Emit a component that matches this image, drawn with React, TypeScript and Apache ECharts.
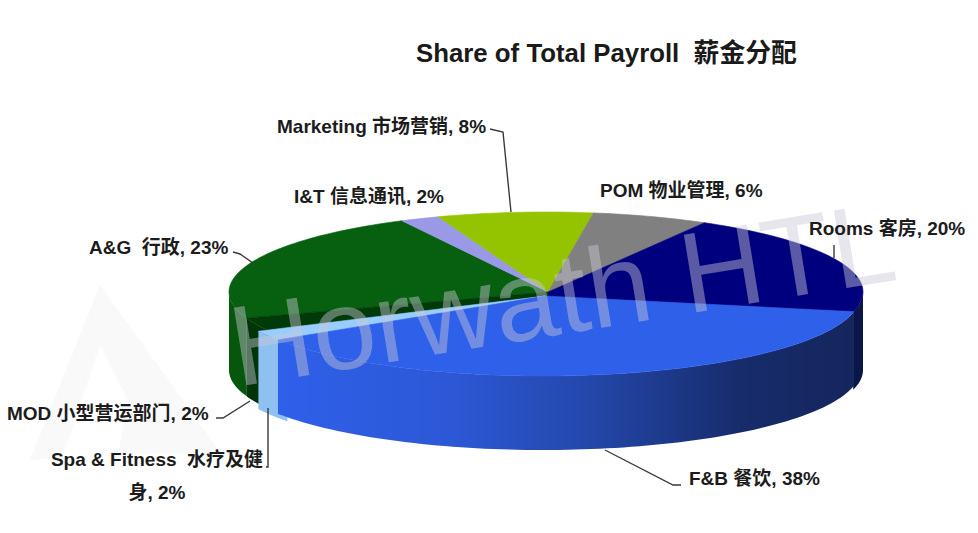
import React, { useEffect, useRef } from "react";
import * as echarts from "echarts";

const sliceNames = ["Rooms 客房", "F&B 餐饮", "Spa & Fitness  水疗及健\n身", "MOD 小型营运部门", "A&G  行政", "I&T 信息通讯", "Marketing 市场营销", "POM 物业管理"];
const shares = [20, 38, 2, 2, 23, 2, 8, 6];
const topColors = ["#00007E", "#2F60EA", "#99CCFF", "#003A08", "#07600F", "#9999E8", "#94C400", "#808080"];
const titleText = "Share of Total Payroll  薪金分配";
const drawOrder = [4, 5, 6, 7, 0, 3, 2, 1];

const CX = 546, CY = 292, RX = 317, RY = 80, DEPTH = 78, START = 30;
const total = shares.reduce((a, b) => a + b, 0);
const offsets: Record<number, [number, number]> = { 1: [-3, 4], 2: [-3, 4] };
const underlap: Record<number, [number, number]> = { 0: [0, 3], 3: [4, 0], 2: [3, 0] };
const labelPos: [number, number, string][] = [
  [809, 228, "left"], [689, 478, "left"], [157, 476, "center"], [7, 413, "left"],
  [89, 247, "left"], [294, 196, "left"], [277, 126, "left"], [600, 190, "left"],
];
const leaders: number[][][] = [
  [[834, 245], [834, 258]],
  [[605, 450], [673, 485], [681, 485]],
  [[268, 408], [268, 467], [266, 467]],
  [[216, 418], [223, 418], [250, 401]],
  [[233, 252], [240, 254], [253, 263]],
  [],
  [[490, 129], [503, 132], [511, 212]],
  [],
];

function startAngle(i: number) {
  let s = 0;
  for (let k = 0; k < i; k++) s += shares[k];
  return START + (s * 360) / total;
}
function pt(deg: number, dx: number, dy: number): number[] {
  const r = (deg * Math.PI) / 180;
  return [CX + dx + RX * Math.sin(r), CY + dy - RY * Math.cos(r)];
}
function arc(a: number, b: number, dx: number, dy: number): number[][] {
  const out: number[][] = [];
  const n = Math.max(2, Math.ceil(Math.abs(b - a) / 1.5));
  for (let i = 0; i <= n; i++) out.push(pt(a + ((b - a) * i) / n, dx, dy));
  return out;
}
function wallFill(i: number): any {
  if (i === 1) {
    return new echarts.graphic.LinearGradient(0, 0, 1, 0, [
      { offset: 0, color: "#2F60EA" },
      { offset: 0.3, color: "#2C58D6" },
      { offset: 0.55, color: "#2346A8" },
      { offset: 0.8, color: "#172C6C" },
      { offset: 1, color: "#14265C" },
    ]);
  }
  if (i === 0) return "#0A1648";
  if (i === 2) return "#8FC0F2";
  if (i === 3) return "#00350A";
  if (i === 4) return "#06560E";
  return topColors[i];
}

function renderSlice(params: any, api: any) {
  const i = api.value(0);
  const [ua, ub] = underlap[i] || [0, 0];
  const a = startAngle(i) - ua;
  const b = startAngle(i) + (api.value(1) * 360) / total + ub;
  const [dx, dy] = offsets[i] || [0, 0];
  const children: any[] = [];
  const wa = Math.max(a, 90);
  const wb = Math.min(b, 270);
  if (wb > wa) {
    const top = arc(wa, wb, dx, dy);
    const bottom = arc(wb, wa, dx, dy + DEPTH - (i === 1 ? 4 : 0));
    children.push({ type: "polygon", shape: { points: top.concat(bottom) }, style: { fill: wallFill(i) }, silent: true });
  }
  const apex = [CX + dx + 2, CY + dy];
  const drop = [CX + dx + 2, CY + dy + 6];
  let points = [apex].concat(arc(a, b, dx, dy));
  if (i === 0) points = points.concat([drop]);
  if (i === 3) points = [drop].concat(points.slice(1)).concat([apex]);
  children.push({
    type: "polygon",
    shape: { points },
    style: { fill: topColors[i], stroke: topColors[i], lineWidth: 0.6 },
    silent: true,
  });
  return { type: "group", children };
}

export default function App() {
  const ref = useRef<HTMLDivElement>(null);
  useEffect(() => {
    const chart = echarts.init(ref.current!, undefined, { renderer: "svg" });
    const font = "'Liberation Sans','Noto Sans CJK SC',Arial,sans-serif";
    const graphics: any[] = [];
    graphics.push(
      { type: "polygon", z: 0, silent: true, shape: { points: [[100, 285], [30, 460], [62, 458], [100, 345], [128, 400], [118, 455], [220, 452]] }, style: { fill: "#F9F9F9" } },
    );
    sliceNames.forEach((n, i) => {
      const [x, y, align] = labelPos[i];
      graphics.push({
        type: "text", x, y, z: 20, silent: true,
        style: {
          text: `${n}, ${shares[i]}%`, fill: "#1C1C1C", align, verticalAlign: "middle",
          font: `bold 19px ${font}`, lineHeight: 33,
        },
      });
      if (leaders[i].length) {
        graphics.push({ type: "polyline", z: 15, silent: true, shape: { points: leaders[i] }, style: { stroke: "#3A3A3A", lineWidth: 1.4, fill: "none" } });
      }
    });
    graphics.push({
      type: "text", x: 240, y: 404, rotation: (9.2 * Math.PI) / 180, originX: 0, originY: 0, z: 12, silent: true,
      style: { text: "Horwath HTL", fill: "rgba(200,200,212,0.45)", font: `114px ${font}`, align: "left", verticalAlign: "bottom" },
    });
    chart.setOption({
      animation: false,
      backgroundColor: "#FFFFFF",
      title: {
        text: titleText, left: 411, top: 35,
        textStyle: { fontFamily: font, fontSize: 25.8, fontWeight: "bold", color: "#1A1A1A" },
      },
      graphic: { elements: graphics },
      series: [{
        type: "custom", coordinateSystem: "none", z: 5, silent: true,
        renderItem: renderSlice,
        data: drawOrder.map((i) => [i, shares[i]]),
      }],
    });
    return () => chart.dispose();
  }, []);
  return <div ref={ref} style={{ position: "fixed", left: 0, top: 0, width: 978, height: 533 }} />;
}
